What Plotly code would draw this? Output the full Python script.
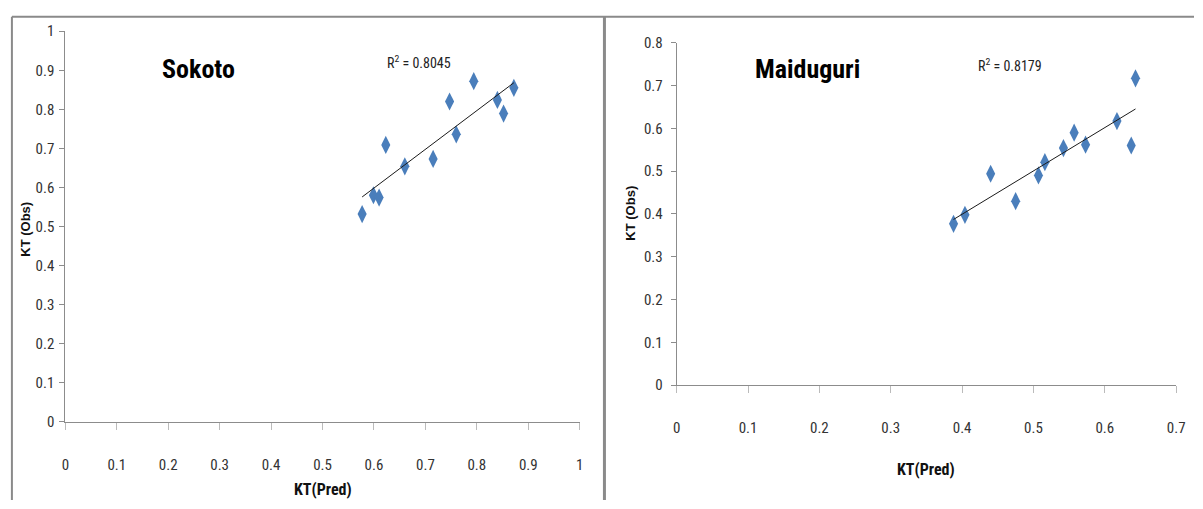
import numpy as np
import plotly.graph_objects as go

# ---- data ----
sokoto_pred = [0.577, 0.599, 0.610, 0.623, 0.660, 0.715, 0.747, 0.760, 0.794, 0.840, 0.852, 0.872]
sokoto_obs = [0.532, 0.580, 0.574, 0.709, 0.654, 0.673, 0.820, 0.736, 0.872, 0.824, 0.789, 0.855]
maid_pred = [0.388, 0.404, 0.440, 0.475, 0.507, 0.516, 0.542, 0.557, 0.573, 0.617, 0.637, 0.643]
maid_obs = [0.377, 0.398, 0.494, 0.430, 0.490, 0.521, 0.554, 0.590, 0.562, 0.617, 0.560, 0.717]
sokoto_r2 = "0.8045"
maid_r2 = "0.8179"
titles = ["Sokoto", "Maiduguri"]

W, H = 1203, 509
def px(x):
    return x / W
def py(y):
    return (H - y) / H

NARROW = "Liberation Sans Narrow, Roboto Condensed, Liberation Sans, Arial"
MARK = "#4A7EBB"
AXC = "#8C8C8C"

fig = go.Figure()

def add_panel(xs, ys, xa, ya):
    fig.add_trace(go.Scatter(x=xs, y=ys, mode="markers", xaxis=xa, yaxis=ya,
                             marker=dict(symbol="diamond-tall", size=13, color=MARK,
                                         line=dict(width=0)),
                             showlegend=False, hoverinfo="skip"))
    m, b = np.polyfit(xs, ys, 1)
    x0, x1 = min(xs), max(xs)
    fig.add_trace(go.Scatter(x=[x0, x1], y=[m * x0 + b, m * x1 + b], mode="lines",
                             xaxis=xa, yaxis=ya, line=dict(color="#1a1a1a", width=1),
                             showlegend=False, hoverinfo="skip"))

add_panel(sokoto_pred, sokoto_obs, "x", "y")
add_panel(maid_pred, maid_obs, "x2", "y2")

tickfont = dict(family=NARROW, size=15, color="#333")
def xaxis(dom, rng, anchor):
    return dict(domain=dom, range=rng, dtick=0.1, tick0=0, anchor=anchor,
                showgrid=False, zeroline=False, showline=True, linecolor=AXC, linewidth=1,
                ticks="outside", ticklen=7, tickcolor="#BBBBBB", tickwidth=1,
                tickfont=tickfont, ticklabelstandoff=22)
def yaxis(dom, rng, anchor, standoff):
    return dict(domain=dom, range=rng, dtick=0.1, tick0=0, anchor=anchor,
                showgrid=False, zeroline=False, showline=True, linecolor=AXC, linewidth=1,
                ticks="outside", ticklen=5, tickcolor=AXC, tickwidth=1,
                tickfont=tickfont, ticklabelstandoff=standoff)

fig.update_layout(
    width=W, height=H,
    margin=dict(l=0, r=0, t=0, b=0),
    paper_bgcolor="white", plot_bgcolor="white",
    xaxis=xaxis([px(62), px(582)], [0, 1], "y"),
    yaxis=yaxis([py(428), py(23)], [0, 1], "x", 2),
    xaxis2=xaxis([px(680), px(1185)], [0, 0.7], "y2"),
    yaxis2=yaxis([py(390), py(35)], [0, 0.8], "x2", 5),
)

# panel borders
fig.add_shape(type="line", xref="paper", yref="paper", x0=px(8), x1=1, y0=py(8), y1=py(8),
              line=dict(color="#8A8A8A", width=2))
fig.add_shape(type="line", xref="paper", yref="paper", x0=px(8), x1=px(8), y0=0, y1=py(8),
              line=dict(color="#8A8A8A", width=2))
fig.add_shape(type="line", xref="paper", yref="paper", x0=px(607), x1=px(607), y0=0, y1=py(8),
              line=dict(color="#8A8A8A", width=3))

def note(text, x, y, font, angle=0):
    return dict(text=text, x=px(x), y=py(y), xref="paper", yref="paper",
                xanchor="center", yanchor="middle", textangle=angle,
                showarrow=False, font=font)

ann = [
    note("<b>%s</b>" % titles[0], 197, 62, dict(family=NARROW, size=26, color="#000")),
    note("<b>%s</b>" % titles[1], 812, 62, dict(family=NARROW, size=26, color="#000")),
    note("R<sup>2</sup> = " + sokoto_r2, 420, 55, dict(family=NARROW, size=14, color="#222")),
    note("R<sup>2</sup> = " + maid_r2, 1017, 58, dict(family=NARROW, size=14, color="#222")),
    note("<b>KT(Pred)</b>", 322, 498, dict(family=NARROW, size=16, color="#111")),
    note("<b>KT(Pred)</b>", 932, 477, dict(family=NARROW, size=16, color="#111")),
    note("<b>KT (Obs)</b>", 22, 228, dict(family="Liberation Sans, Arial", size=13, color="#111"), -90),
    note("<b>KT (Obs)</b>", 633, 212, dict(family="Liberation Sans, Arial", size=13, color="#111"), -90),
]
fig.update_layout(annotations=ann)

fig.write_html("out.html")
